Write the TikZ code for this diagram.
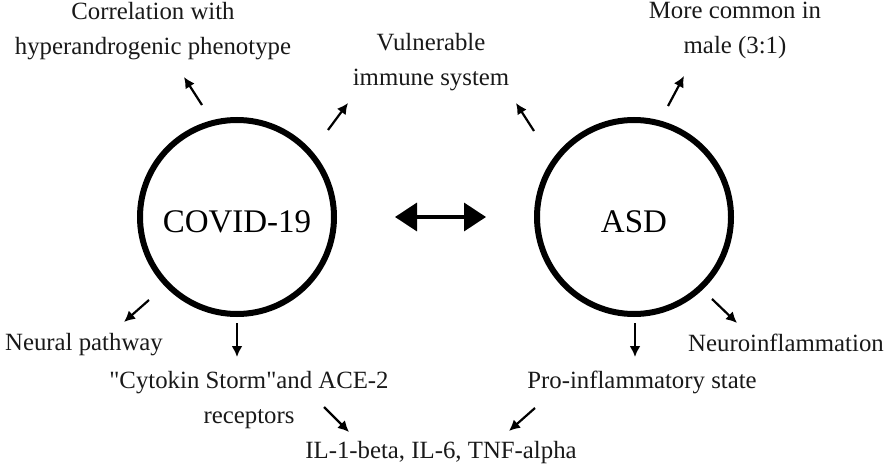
\documentclass[tikz,border=0pt]{standalone}
\usepackage{fontspec}
\setmainfont{Liberation Serif}
\usetikzlibrary{arrows.meta}
\begin{document}
\begin{tikzpicture}[x=1pt,y=-1pt,
  lbl/.style={font=\fontsize{24.8}{35}\selectfont, align=center, inner sep=0pt, text=black!90},
  big/.style={circle, draw=black, line width=6pt, minimum size=194pt, inner sep=0pt,
              text height=30pt, text depth=0pt,
              font=\fontsize{33}{38}\selectfont},
  sarrow/.style={line width=2.2pt, -{Latex[length=11pt,width=11pt]}},
  darrow/.style={line width=3.5pt, {Triangle[length=22pt,width=28pt]}-{Triangle[length=22pt,width=28pt]}}
]
\useasboundingbox (0,0) rectangle (889,468);

% circles
\node[big] (cov) at (237,217) {COVID-19};
\node[big] (asd) at (634,217) {ASD};

% double arrow between circles
\coordinate (dl) at (395,217);
\coordinate (dr) at (486,217);
\draw[darrow] (dl) -- (dr);

% text nodes
\node[lbl] (corr) at (153,31) {Correlation with\\hyperandrogenic phenotype};
\node[lbl] (vuln) at (431,62) {Vulnerable\\immune system};
\node[lbl] (male) at (735,30) {More common in\\male (3:1)};
\node[lbl] (neur) at (84,345) {Neural pathway};
\node[lbl] (cyto) at (249,400) {\textquotedbl Cytokin Storm\textquotedbl and ACE-2\\receptors};
\node[lbl] (il) at (441,453) {IL-1-beta, IL-6, TNF-alpha};
\node[lbl] (pro) at (642,382) {Pro-inflammatory state};
\node[lbl] (neuro) at (786,343) {Neuroinflammation};

% arrow end points
\coordinate (a1s) at (202,105); \coordinate (a1e) at (184,77);
\coordinate (a2s) at (328,130); \coordinate (a2e) at (348,103);
\coordinate (a3s) at (534,131); \coordinate (a3e) at (516,103);
\coordinate (a4s) at (668,106); \coordinate (a4e) at (684,76);
\coordinate (a5s) at (149,300); \coordinate (a5e) at (124,322);
\coordinate (a6s) at (237,323); \coordinate (a6e) at (237,357);
\coordinate (a7s) at (635,323); \coordinate (a7e) at (635,357);
\coordinate (a8s) at (712,299); \coordinate (a8e) at (737,323);
\coordinate (a9s) at (324,407); \coordinate (a9e) at (349,432);
\coordinate (a10s) at (535,408); \coordinate (a10e) at (509,431);

\draw[sarrow] (a1s) -- (a1e);
\draw[sarrow] (a2s) -- (a2e);
\draw[sarrow] (a3s) -- (a3e);
\draw[sarrow] (a4s) -- (a4e);
\draw[sarrow] (a5s) -- (a5e);
\draw[sarrow] (a6s) -- (a6e);
\draw[sarrow] (a7s) -- (a7e);
\draw[sarrow] (a8s) -- (a8e);
\draw[sarrow] (a9s) -- (a9e);
\draw[sarrow] (a10s) -- (a10e);
\end{tikzpicture}
\end{document}
